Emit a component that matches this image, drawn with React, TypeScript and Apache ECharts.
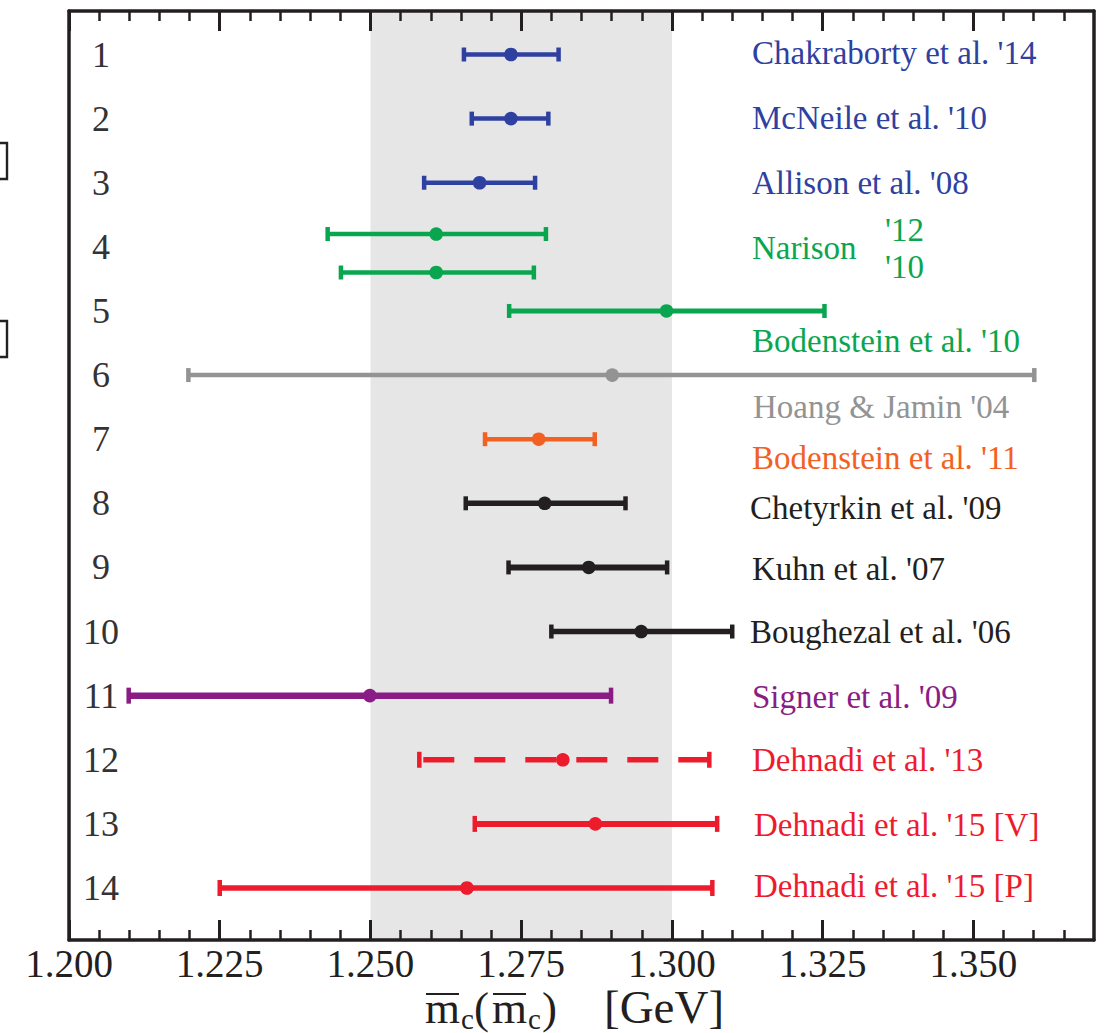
import React, { useEffect, useRef } from "react";
import * as echarts from "echarts";

// ---------- data ----------
const rowTicks = [1, 2, 3, 4, 5, 6, 7, 8, 9, 10, 11, 12, 13, 14];
const xMajorTicks = [1.2, 1.225, 1.25, 1.275, 1.3, 1.325, 1.35];
const xMinorTicks = [
  1.205, 1.21, 1.215, 1.22, 1.23, 1.235, 1.24, 1.245, 1.255, 1.26, 1.265, 1.27,
  1.28, 1.285, 1.29, 1.295, 1.305, 1.31, 1.315, 1.32, 1.33, 1.335, 1.34, 1.345,
  1.355, 1.36, 1.365,
];
const xRange = [1.2, 1.37];
const yRange = [0.3214, 14.811];
const band = [1.25, 1.3];

const names = [
  "Chakraborty et al. '14",
  "McNeile et al. '10",
  "Allison et al. '08",
  "Narison '12",
  "Narison '10",
  "Bodenstein et al. '10",
  "Hoang & Jamin '04",
  "Bodenstein et al. '11",
  "Chetyrkin et al. '09",
  "Kuhn et al. '07",
  "Boughezal et al. '06",
  "Signer et al. '09",
  "Dehnadi et al. '13",
  "Dehnadi et al. '15 [V]",
  "Dehnadi et al. '15 [P]",
];
const centers = [1.2733, 1.2733, 1.2681, 1.2609, 1.2609, 1.2991, 1.2901, 1.2779, 1.2789, 1.2862, 1.2949, 1.2499, 1.2819, 1.2873, 1.266];
const lows = [1.2655, 1.2668, 1.2589, 1.2429, 1.2451, 1.273, 1.2198, 1.269, 1.2658, 1.2729, 1.28, 1.2099, 1.2581, 1.2673, 1.225];
const highs = [1.2812, 1.2795, 1.2773, 1.2791, 1.2771, 1.3253, 1.3601, 1.2872, 1.2923, 1.2992, 1.31, 1.2899, 1.3062, 1.3075, 1.3067];
const rows = [1, 2, 3, 3.8, 4.4, 5, 6, 7, 8, 9, 10, 11, 12, 13, 14];

// ---------- styles ----------
const BLUE = "#2f41a0";
const GREEN = "#0aa64f";
const GRAY = "#939393";
const ORANGE = "#f26122";
const BLACK = "#231f20";
const PURPLE = "#8a1c85";
const RED = "#ec1c2d";
const FONT = '"Liberation Serif", "Times New Roman", serif';

const barStyles = [
  { color: BLUE, lw: 4.5, cap: 14, dash: false },
  { color: BLUE, lw: 4.5, cap: 14, dash: false },
  { color: BLUE, lw: 4.5, cap: 14, dash: false },
  { color: GREEN, lw: 4.5, cap: 14, dash: false },
  { color: GREEN, lw: 4.5, cap: 14, dash: false },
  { color: GREEN, lw: 5, cap: 14, dash: false },
  { color: GRAY, lw: 4.5, cap: 14, dash: false },
  { color: ORANGE, lw: 4.5, cap: 14, dash: false },
  { color: BLACK, lw: 5.5, cap: 14, dash: false },
  { color: BLACK, lw: 6, cap: 14, dash: false },
  { color: BLACK, lw: 5.5, cap: 14, dash: false },
  { color: PURPLE, lw: 6.5, cap: 16, dash: false },
  { color: RED, lw: 5.5, cap: 16, dash: true },
  { color: RED, lw: 6, cap: 16, dash: false },
  { color: RED, lw: 5.5, cap: 16, dash: false },
];

// label layout (pixel positions of the annotation texts)
const textItems = [
  { t: "Chakraborty et al. '14", x: 752, y: 53, c: BLUE },
  { t: "McNeile et al. '10", x: 752, y: 118, c: BLUE },
  { t: "Allison et al. '08", x: 752, y: 183, c: BLUE },
  { t: "Narison", x: 752, y: 248, c: GREEN },
  { t: "'12", x: 885, y: 230, c: GREEN },
  { t: "'10", x: 885, y: 267, c: GREEN },
  { t: "Bodenstein et al. '10", x: 752, y: 341, c: GREEN },
  { t: "Hoang & Jamin '04", x: 753, y: 407, c: GRAY },
  { t: "Bodenstein et al. '11", x: 752, y: 458, c: ORANGE },
  { t: "Chetyrkin et al. '09", x: 750, y: 508, c: BLACK },
  { t: "Kuhn et al. '07", x: 752, y: 569, c: BLACK },
  { t: "Boughezal et al. '06", x: 750, y: 632, c: BLACK },
  { t: "Signer et al. '09", x: 752, y: 697, c: PURPLE },
  { t: "Dehnadi et al. '13", x: 752, y: 760, c: RED },
  { t: "Dehnadi et al. '15 [V]", x: 754, y: 825, c: RED },
  { t: "Dehnadi et al. '15 [P]", x: 754, y: 886, c: RED },
];

export default function App() {
  const ref = useRef<HTMLDivElement>(null);

  useEffect(() => {
    if (!ref.current) return;
    const chart = echarts.init(ref.current, null, { renderer: "svg" });

    const axisLineStyle = { color: BLACK, width: 3.5 };
    const baseX = {
      type: "value",
      min: xRange[0],
      max: xRange[1],
      z: 4,
      splitLine: { show: false },
    };

    const xAxes = [
      {
        ...baseX,
        position: "bottom",
        axisLine: { show: true, lineStyle: axisLineStyle },
        axisTick: { show: true, inside: true, length: 20, customValues: xMajorTicks, lineStyle: { color: BLACK, width: 3 } },
        axisLabel: {
          show: true,
          customValues: xMajorTicks,
          formatter: (v: number) => v.toFixed(3),
          fontFamily: FONT,
          fontSize: 39,
          lineHeight: 36,
          color: BLACK,
          margin: 5,
        },
      },
      {
        ...baseX,
        position: "bottom",
        axisLine: { show: false },
        axisTick: { show: true, inside: true, length: 10, customValues: xMinorTicks, lineStyle: { color: BLACK, width: 2.5 } },
        axisLabel: { show: false },
      },
      {
        ...baseX,
        position: "top",
        axisLine: { show: true, lineStyle: axisLineStyle },
        axisTick: { show: true, inside: true, length: 20, customValues: xMajorTicks, lineStyle: { color: BLACK, width: 3 } },
        axisLabel: { show: false },
      },
      {
        ...baseX,
        position: "top",
        axisLine: { show: false },
        axisTick: { show: true, inside: true, length: 10, customValues: xMinorTicks, lineStyle: { color: BLACK, width: 2.5 } },
        axisLabel: { show: false },
      },
    ];

    const yAxes = [
      {
        type: "value",
        position: "left",
        min: yRange[0],
        max: yRange[1],
        inverse: true,
        z: 4,
        splitLine: { show: false },
        axisLine: { show: true, lineStyle: axisLineStyle },
        axisTick: { show: false },
        axisLabel: {
          show: true,
          inside: true,
          customValues: rowTicks,
          formatter: (v: number) => String(v),
          align: "center",
          margin: 32,
          fontFamily: FONT,
          fontSize: 36,
          color: "#333333",
        },
      },
      {
        type: "value",
        position: "right",
        min: yRange[0],
        max: yRange[1],
        inverse: true,
        z: 4,
        splitLine: { show: false },
        axisLine: { show: true, lineStyle: axisLineStyle },
        axisTick: { show: false },
        axisLabel: { show: false },
      },
    ];

    const barData = names.map((n, i) => ({
      name: n,
      value: [centers[i], lows[i], highs[i], rows[i]],
    }));

    const graphics: any[] = [];
    textItems.forEach((it) => {
      graphics.push({
        type: "text",
        x: it.x,
        y: it.y,
        silent: true,
        style: {
          text: it.t,
          fill: it.c,
          font: `33px ${FONT}`,
          textAlign: "left",
          textVerticalAlign: "middle",
        },
      });
    });

    // axis title: m̄c(m̄c) [GeV], pieces placed side by side
    const titleBase = 1030;
    const subBase = 1033;
    const titleParts = [
      { t: "m", x: 425, y: titleBase, s: 45 },
      { t: "c", x: 461, y: subBase, s: 29 },
      { t: "(", x: 474, y: titleBase, s: 45 },
      { t: "m", x: 492, y: titleBase, s: 45 },
      { t: "c", x: 528, y: subBase, s: 29 },
      { t: ")", x: 542, y: titleBase, s: 45 },
      { t: "[GeV]", x: 604, y: titleBase, s: 47 },
    ];
    titleParts.forEach((p) => {
      graphics.push({
        type: "text",
        x: p.x,
        y: p.y,
        silent: true,
        style: {
          text: p.t,
          fill: BLACK,
          font: `${p.s}px ${FONT}`,
          textAlign: "left",
          textVerticalAlign: "bottom",
          lineHeight: p.s,
        },
      });
    });
    [
      [426, 459],
      [493, 526],
    ].forEach(([a, b]) => {
      graphics.push({
        type: "line",
        silent: true,
        shape: { x1: a, y1: 994, x2: b, y2: 994 },
        style: { stroke: BLACK, lineWidth: 2.2 },
      });
    });

    // cropped brackets from neighbouring figure at the left edge
    [
      [143, 179],
      [321, 357],
    ].forEach(([a, b]) => {
      graphics.push({
        type: "polyline",
        silent: true,
        shape: { points: [[0, a], [7, a], [7, b], [0, b]] },
        style: { stroke: "#222", lineWidth: 2.4, fill: null },
      });
    });

    const option: any = {
      animation: false,
      backgroundColor: "#ffffff",
      grid: { left: 69, right: 10, top: 11, bottom: 93, containLabel: false },
      xAxis: xAxes,
      yAxis: yAxes,
      series: [
        {
          type: "custom",
          name: "band",
          z: 1,
          silent: true,
          data: [[band[0], band[1]]],
          renderItem: (params: any, api: any) => {
            const p1 = api.coord([api.value(0), yRange[0]]);
            const p2 = api.coord([api.value(1), yRange[1]]);
            return {
              type: "rect",
              shape: { x: p1[0], y: Math.min(p1[1], p2[1]), width: p2[0] - p1[0], height: Math.abs(p2[1] - p1[1]) },
              style: { fill: "#e6e6e6" },
            };
          },
        },
        {
          type: "custom",
          name: "bars",
          z: 5,
          silent: true,
          data: barData,
          renderItem: (params: any, api: any) => {
            const st = barStyles[params.dataIndex];
            const row = api.value(3);
            const pC = api.coord([api.value(0), row]);
            const pL = api.coord([api.value(1), row]);
            const pR = api.coord([api.value(2), row]);
            const h = st.cap / 2;
            const children: any[] = [
              {
                type: "line",
                shape: { x1: st.dash ? pL[0] + 4 : pL[0], y1: pL[1], x2: pR[0], y2: pR[1] },
                style: { stroke: st.color, lineWidth: st.lw, lineDash: st.dash ? [31, 20] : null },
              },
              {
                type: "line",
                shape: { x1: pL[0], y1: pL[1] - h, x2: pL[0], y2: pL[1] + h },
                style: { stroke: st.color, lineWidth: 4.5 },
              },
              {
                type: "line",
                shape: { x1: pR[0], y1: pR[1] - h, x2: pR[0], y2: pR[1] + h },
                style: { stroke: st.color, lineWidth: 4.5 },
              },
              {
                type: "circle",
                shape: { cx: pC[0], cy: pC[1], r: 6.8 },
                style: { fill: st.color },
              },
            ];
            return { type: "group", children };
          },
        },
      ],
      graphic: graphics,
    };

    chart.setOption(option);
    return () => chart.dispose();
  }, []);

  return (
    <div
      ref={ref}
      style={{ position: "absolute", left: 0, top: 0, width: 1104, height: 1033, background: "#fff" }}
    />
  );
}
